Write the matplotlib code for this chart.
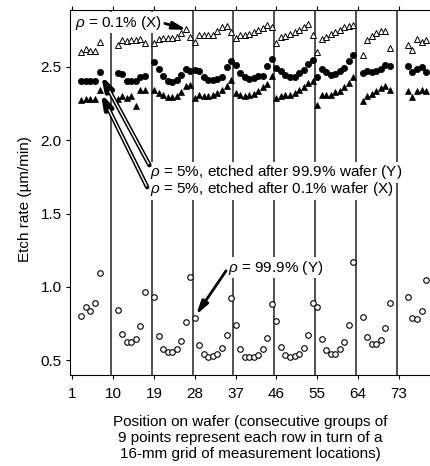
import matplotlib
matplotlib.use('Agg')
import matplotlib.pyplot as plt

plt.rcParams['font.family'] = ['Liberation Sans', 'DejaVu Sans']
plt.rcParams['mathtext.fontset'] = 'custom'
plt.rcParams['mathtext.it'] = 'Liberation Sans:italic'
plt.rcParams['mathtext.rm'] = 'Liberation Sans'

# DATA
# measurement positions (rows of the 16-mm grid, 9 slots per row)
positions = [3, 4, 5, 6, 7,
             11, 12, 13, 14, 15, 16, 17,
             19, 20, 21, 22, 23, 24, 25, 26, 27,
             28, 29, 30, 31, 32, 33, 34, 35, 36,
             37, 38, 39, 40, 41, 42, 43, 44, 45,
             46, 47, 48, 49, 50, 51, 52, 53, 54,
             55, 56, 57, 58, 59, 60, 61, 62, 63,
             65, 66, 67, 68, 69, 70, 71,
             75, 76, 77, 78, 79]

# rho = 0.1% (X), open triangles
rate_x01 = [2.60, 2.62, 2.61, 2.61, 2.67,
            2.645, 2.685, 2.675, 2.68, 2.685, 2.69, 2.66,
            2.665, 2.69, 2.695, 2.695, 2.695, 2.70, 2.73, 2.755, 2.70,
            2.67, 2.714, 2.714, 2.714, 2.714, 2.746, 2.771, 2.775, 2.737,
            2.696, 2.714, 2.714, 2.725, 2.737, 2.753, 2.764, 2.787, 2.771,
            2.66, 2.703, 2.712, 2.723, 2.737, 2.753, 2.771, 2.79, 2.719,
            2.60, 2.689, 2.705, 2.721, 2.739, 2.753, 2.771, 2.775, 2.787,
            2.583, 2.685, 2.707, 2.728, 2.746, 2.746, 2.628,
            2.651, 2.617, 2.691, 2.669, 2.685]

# rho = 5%, etched after 99.9% wafer (Y), filled circles
rate_y5 = [2.40, 2.40, 2.40, 2.40, 2.465,
           2.458, 2.453, 2.401, 2.401, 2.405, 2.430, 2.439,
           2.531, 2.485, 2.439, 2.401, 2.396, 2.412, 2.446, 2.485, 2.473,
           2.480, 2.473, 2.430, 2.407, 2.412, 2.419, 2.430, 2.496, 2.537,
           2.510, 2.458, 2.430, 2.419, 2.424, 2.435, 2.435, 2.503, 2.555,
           2.492, 2.473, 2.441, 2.430, 2.430, 2.458, 2.480, 2.519, 2.543,
           2.428, 2.485, 2.462, 2.446, 2.453, 2.469, 2.492, 2.537, 2.578,
           2.458, 2.469, 2.462, 2.473, 2.485, 2.514, 2.507,
           2.507, 2.462, 2.485, 2.499, 2.462]

# rho = 5%, etched after 0.1% wafer (X), filled triangles
rate_x5 = [2.276, 2.281, 2.281, 2.281, 2.344,
           2.28, 2.30, 2.29, 2.30, 2.235, 2.34, 2.344,
           2.344, 2.322, 2.310, 2.294, 2.294, 2.303, 2.33, 2.37, 2.373,
           2.287, 2.310, 2.298, 2.298, 2.305, 2.322, 2.339, 2.366, 2.412,
           2.320, 2.310, 2.303, 2.308, 2.317, 2.336, 2.359, 2.381, 2.435,
           2.287, 2.298, 2.305, 2.310, 2.322, 2.344, 2.362, 2.390, 2.405,
           2.242, 2.308, 2.308, 2.31, 2.327, 2.338, 2.363, 2.39, 2.427,
           2.264, 2.303, 2.317, 2.332, 2.356, 2.371, 2.344,
           2.332, 2.294, 2.332, 2.339, 2.332]

# rho = 99.9% (Y), open circles
rate_y999 = [0.80, 0.861, 0.834, 0.888, 1.095,
             0.843, 0.680, 0.625, 0.625, 0.648, 0.734, 0.963,
             0.932, 0.666, 0.580, 0.554, 0.554, 0.578, 0.629, 0.759, 1.068,
             0.789, 0.602, 0.544, 0.525, 0.532, 0.544, 0.587, 0.675, 0.927,
             0.743, 0.580, 0.525, 0.520, 0.523, 0.537, 0.575, 0.653, 0.884,
             0.770, 0.591, 0.537, 0.525, 0.527, 0.544, 0.582, 0.673, 0.893,
             0.864, 0.648, 0.571, 0.544, 0.546, 0.575, 0.623, 0.741, 1.168,
             0.798, 0.659, 0.609, 0.609, 0.641, 0.723, 0.891,
             0.932, 0.789, 0.782, 0.837, 1.045]

x_ticks = [1, 10, 19, 28, 37, 46, 55, 64, 73]
y_ticks = [0.5, 1.0, 1.5, 2.0, 2.5]
row_breaks = [9.5, 18.5, 27.5, 36.5, 45.5, 54.5, 63.5, 72.5]

# PLOT
fig = plt.figure(figsize=(4.31, 4.66), dpi=100)
ax = fig.add_axes([0.1626, 0.1953, 0.8522, 0.7843])
ax.set_xlim(0.5, 81.5)
ax.set_ylim(0.4, 2.89)

for xb in row_breaks:
    ax.axvline(xb, color='#222222', lw=1.1, zorder=1)

ax.plot(positions, rate_x01, ls='none', marker='^', ms=4.8, mfc='white',
        mec='black', mew=0.7, zorder=3)
ax.plot(positions, rate_y5, ls='none', marker='o', ms=4.5, mfc='black',
        mec='black', mew=0.5, zorder=3)
ax.plot(positions, rate_x5, ls='none', marker='^', ms=4.8, mfc='black',
        mec='black', mew=0.5, zorder=3)
ax.plot(positions, rate_y999, ls='none', marker='o', ms=4.0, mfc='white',
        mec='black', mew=0.8, zorder=3)

# AXES
ax.spines['right'].set_visible(False)
ax.set_xticks(x_ticks)
ax.set_yticks(y_ticks)
ax.set_yticklabels(['%.1f' % v for v in y_ticks])
ax.tick_params(axis='x', top=True, direction='out', length=3, width=0.8,
               labelsize=11, pad=6)
ax.tick_params(axis='y', direction='out', length=3, width=0.8,
               labelsize=11, pad=3)

ax.set_ylabel('Etch rate (\u00b5m/min)', fontsize=11)
ax.yaxis.set_label_coords(-0.105, 0.48)
ax.set_xlabel('Position on wafer (consecutive groups of\n'
              '9 points represent each row in turn of a\n'
              '16-mm grid of measurement locations)', fontsize=11,
              linespacing=1.2)
ax.xaxis.set_label_coords(0.49, -0.172)
ax.xaxis.label.set_va('center')

# ANNOTATIONS
box = dict(facecolor='white', edgecolor='none', pad=1.0)
head = dict(arrowstyle='-|>,head_length=0.8,head_width=0.22', lw=2.0,
            color='black', shrinkA=0, shrinkB=0)

ax.text(1.6, 2.80, r'$\rho$ = 0.1% (X)', fontsize=11, va='center',
        ha='left', bbox=box, zorder=4)
ax.annotate('', xy=(26.2, 2.752), xytext=(21.4, 2.795), arrowprops=head,
            zorder=5)

ax.text(18.1, 1.78, r'$\rho$ = 5%, etched after 99.9% wafer (Y)', fontsize=11,
        va='center', ha='left', bbox=box, zorder=4)
ax.text(18.1, 1.664, r'$\rho$ = 5%, etched after 0.1% wafer (X)', fontsize=11,
        va='center', ha='left', bbox=box, zorder=4)
for tip, tail in [((7.35, 2.44), (18.0, 1.83)), ((7.3, 2.318), (17.5, 1.68))]:
    ax.annotate('', xy=tip, xytext=tail,
                arrowprops=dict(arrowstyle='-|>,head_length=0.8,head_width=0.25',
                                lw=3.2, color='black', shrinkA=0, shrinkB=0),
                zorder=5)
    # hollow shaft look
    ax.annotate('', xy=tip, xytext=tail,
                arrowprops=dict(arrowstyle='-', lw=1.0, color='white',
                                shrinkA=1, shrinkB=13),
                zorder=6)

ax.text(35.4, 1.13, r'$\rho$ = 99.9% (Y)', fontsize=11, va='center',
        ha='left', bbox=box, zorder=4)
ax.annotate('', xy=(28.3, 0.81), xytext=(34.9, 1.11), arrowprops=head,
            zorder=5)

fig.savefig('out.png', dpi=100)
